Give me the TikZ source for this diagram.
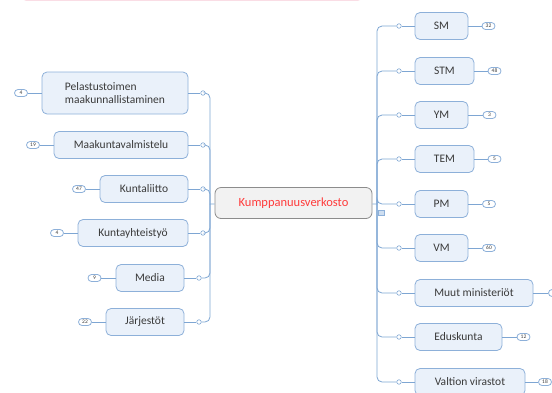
\documentclass[tikz,border=0pt]{standalone}
\usepackage{fontspec}
\setmainfont{Carlito}
\definecolor{boxfill}{HTML}{EAF1FA}
\definecolor{boxline}{HTML}{8DB0D9}
\definecolor{linkcol}{HTML}{7EA6D3}
\definecolor{txtcol}{HTML}{3A3A3A}
\definecolor{rootred}{HTML}{FF3B3B}
\definecolor{bandpink}{HTML}{FADDE5}

\newcommand{\subn}{\node[draw=boxline, fill=boxfill, rounded corners=5pt, line width=0.8pt, minimum height=27pt, inner sep=0pt, text=txtcol, font=\fontsize{11.5}{13.5}\selectfont, align=center]}
\newcommand{\badgen}{\node[draw=boxline, fill=white, rounded corners=3.5pt, line width=0.8pt, minimum width=13pt, minimum height=7pt, inner sep=0pt, text=txtcol, font=\fontsize{5.5}{5.5}\selectfont]}
\newcommand{\jn}{\node[circle, draw=linkcol, fill=white, line width=0.6pt, minimum size=4.5pt, inner sep=0pt]}
\newcommand{\rootn}{\node[draw=gray!90, fill=black!5, rounded corners=6pt, line width=0.8pt, minimum width=157pt, minimum height=31pt, text=rootred, font=\fontsize{12.5}{14}\selectfont]}

\begin{document}
\begin{tikzpicture}[x=1pt, y=-1pt, link/.style={draw=linkcol, line width=0.8pt}]
    \useasboundingbox (0,0) rectangle (552,392);
    \draw[bandpink, line width=1pt, rounded corners=4pt] (22,-8) -- (22,0.3) -- (362,0.3) -- (362,-8);

    % keskus
    \rootn (kv) at (293.5,203) {Kumppanuusverkosto};
    \node[draw=boxline, fill=boxfill!70!boxline, minimum width=6pt, minimum height=5pt, inner sep=0pt, line width=0.5pt] (kvicon) at (381,212.5) {};
    \coordinate (lroot) at (210,204);
    \coordinate (rroot) at (377,204);

    % vasen puoli
    \subn[minimum width=146pt, minimum height=42pt, align=left] (pel) at (115,93) {Pelastustoimen\\maakunnallistaminen};
    \subn[minimum width=134pt] (maak) at (121,145) {Maakuntavalmistelu};
    \subn[minimum width=88pt] (kl) at (144,189) {Kuntaliitto};
    \subn[minimum width=110pt] (kyt) at (133,233) {Kuntayhteistyö};
    \subn[minimum width=68pt] (media) at (150,278) {Media};
    \subn[minimum width=78pt] (jarj) at (145,322) {Järjestöt};

    \badgen (bpel) at (21,93) {4};
    \badgen (bmaak) at (33,145) {19};
    \badgen (bkl) at (79,189) {47};
    \badgen (bkyt) at (57,233) {4};
    \badgen (bmedia) at (94.5,278) {9};
    \badgen (bjarj) at (85,322) {22};

    \jn (jpel) at (203,93) {};
    \jn (jmaak) at (203,145) {};
    \jn (jkl) at (203,189) {};
    \jn (jkyt) at (203,233) {};
    \jn (jmedia) at (199,278) {};
    \jn (jjarj) at (199,322) {};

    % oikea puoli
    \subn[minimum width=53pt] (sm) at (441.5,26) {SM};
    \subn[minimum width=59pt] (stm) at (444.5,71) {STM};
    \subn[minimum width=53pt] (ym) at (441.5,115) {YM};
    \subn[minimum width=59pt] (tem) at (444.5,159) {TEM};
    \subn[minimum width=53pt] (pm) at (441.5,204) {PM};
    \subn[minimum width=53pt] (vm) at (441.5,248) {VM};
    \subn[minimum width=118pt] (muut) at (474,293) {Muut ministeriöt};
    \subn[minimum width=87pt] (edus) at (458.5,337) {Eduskunta};
    \subn[minimum width=110pt] (valt) at (470,382) {Valtion virastot};

    \badgen (bsm) at (488.5,26) {32};
    \badgen (bstm) at (494.5,71) {48};
    \badgen (bym) at (489.5,115) {3};
    \badgen (btem) at (494.5,159) {5};
    \badgen (bpm) at (489,204) {5};
    \badgen (bvm) at (489,248) {60};
    \badgen (bmuut) at (555,293) {};
    \badgen (bedus) at (523.5,337) {12};
    \badgen (bvalt) at (545,382) {18};

    \jn (jsm) at (399,26) {};
    \jn (jstm) at (399,71) {};
    \jn (jym) at (399,115) {};
    \jn (jtem) at (399,159) {};
    \jn (jpm) at (399,204) {};
    \jn (jvm) at (399,248) {};
    \jn (jmuut) at (399,293) {};
    \jn (jedus) at (399,337) {};
    \jn (jvalt) at (399,382) {};

    % yhteydet
    \foreach \n in {pel,maak,kl,kyt,media,jarj}{
        \draw[link] (b\n) -- (\n);
        \draw[link] (\n) -- (j\n);
        \draw[link, rounded corners=5pt] (j\n) -| (lroot);
    }
    \draw[link] (lroot) -- (kv);
    \draw[link] (kv) -- (rroot);
    \foreach \n in {sm,stm,ym,tem,pm,vm,muut,edus,valt}{
        \draw[link, rounded corners=5pt] (rroot) |- (j\n);
        \draw[link] (j\n) -- (\n);
        \draw[link] (\n) -- (b\n);
    }
\end{tikzpicture}
\end{document}
